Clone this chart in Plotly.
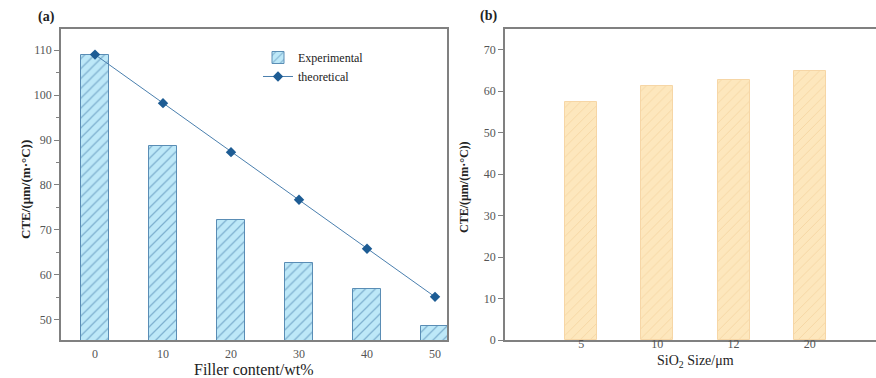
import plotly.graph_objects as go

W, H = 876, 378

# ---- data ----
filler_content = [0, 10, 20, 30, 40, 50]
cte_experimental = [109.0, 88.7, 72.2, 62.7, 56.9, 48.7]
cte_theoretical = [109.0, 98.2, 87.3, 76.7, 65.8, 55.1]

sio2_size = ["5", "10", "12", "20"]
cte_size = [57.3, 61.3, 62.7, 64.9]

left_yticks = [50, 60, 70, 80, 90, 100, 110]
right_yticks = [0, 10, 20, 30, 40, 50, 60, 70]

FONT = "Liberation Serif, Times New Roman, serif"
AX = "#808080"
TICKC = "#555555"

def px(x):
    return x / W

fig = go.Figure()

fig.add_trace(go.Bar(
    x=filler_content, y=cte_experimental, width=4, name="Experimental",
    xaxis="x", yaxis="y",
    marker=dict(color="#bde8f8",
                line=dict(color="#5a8db5", width=1),
                pattern=dict(shape="/", fgcolor="#3f77a6", bgcolor="#bde8f8",
                             size=7, solidity=0.18)),
))
fig.add_trace(go.Scatter(
    x=filler_content, y=cte_theoretical, name="theoretical",
    mode="lines+markers", xaxis="x", yaxis="y",
    line=dict(color="#4a7fae", width=1),
    marker=dict(symbol="diamond", size=8, color="#1d5c94"),
))
fig.add_trace(go.Bar(
    x=sio2_size, y=cte_size, width=0.42, name="size", showlegend=False,
    xaxis="x2", yaxis="y2",
    marker=dict(color="#fde7bd",
                line=dict(color="#f6d6a6", width=1),
                pattern=dict(shape="/", fgcolor="#eec68a", bgcolor="#fde7bd",
                             size=7, solidity=0.14)),
))

common_axis = dict(showline=True, linecolor=AX, linewidth=1.5, showgrid=False,
                   zeroline=False, tickfont=dict(family=FONT, size=12, color=TICKC))

fig.update_layout(
    width=W, height=H,
    margin=dict(l=0, r=0, t=29, b=38),
    paper_bgcolor="white", plot_bgcolor="white",
    font=dict(family=FONT),
    bargap=0,
    xaxis=dict(domain=[px(61), px(447)], range=[-5, 51.76], tickvals=filler_content,
               ticks="", mirror=True, ticklabelstandoff=2, **common_axis),
    yaxis=dict(domain=[0, 1], range=[45.5, 114.7], tickvals=left_yticks,
               ticks="outside", ticklen=5, tickcolor=AX, mirror=True,
               minor=dict(ticks="outside", ticklen=3, dtick=5, tickcolor=AX),
               anchor="x", **common_axis),
    xaxis2=dict(domain=[px(505), 1.0], range=[-1.0, 3.87], type="category",
                ticks="", mirror=True, anchor="y2", ticklabelstandoff=-8,
                **common_axis),
    yaxis2=dict(domain=[0, 1], range=[0, 75], tickvals=right_yticks,
                ticks="outside", ticklen=5, tickcolor=AX, anchor="x2",
                **common_axis),
    legend=dict(x=px(258), y=0.955, xanchor="left", yanchor="top",
                bgcolor="rgba(0,0,0,0)", font=dict(family=FONT, size=12, color="#222"),
                tracegroupgap=4, itemwidth=30),
    showlegend=True,
)

ann = [
    dict(text="<b>(a)</b>", x=px(46), y=17, font=dict(size=14, color="#222")),
    dict(text="<b>(b)</b>", x=px(488), y=16, font=dict(size=14, color="#222")),
    dict(text="<b>CTE/(μm/(m·°C))</b>", x=px(25), y=190, textangle=-90,
         font=dict(size=13, color="#222")),
    dict(text="<b>CTE/(μm/(m·°C))</b>", x=px(464), y=187, textangle=-90,
         font=dict(size=12, color="#222")),
    dict(text="Filler content/wt%", x=px(254), y=369, font=dict(size=16, color="#222")),
    dict(text="SiO<sub>2</sub> Size/μm", x=px(695), y=361, font=dict(size=14, color="#222")),
]
for a in ann:
    fig.add_annotation(text=a["text"], x=a["x"], y=1 - (a["y"] - 29) / (H - 29 - 38),
                       xref="paper", yref="paper", showarrow=False,
                       xanchor="center", yanchor="middle",
                       textangle=a.get("textangle", 0), font=dict(family=FONT, **a["font"]))

fig.write_html("out.html", config={"displayModeBar": False},
               post_script="document.body.style.margin='0';document.body.style.overflow='hidden';")
